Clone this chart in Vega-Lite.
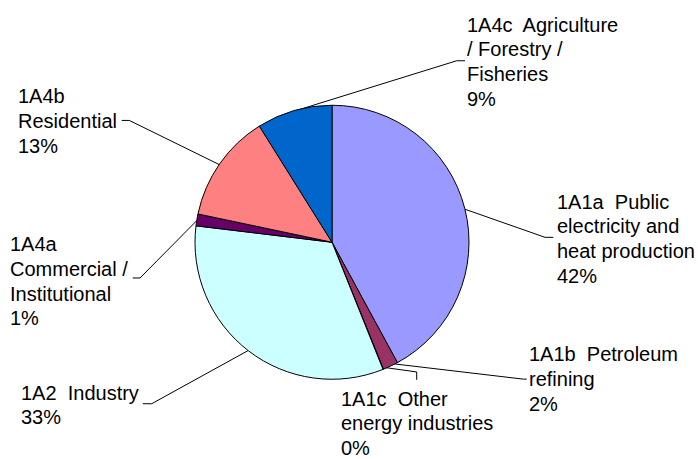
{
  "$schema": "https://vega.github.io/schema/vega-lite/v6.json",
  "width": 698,
  "height": 459,
  "autosize": {"type": "fit", "contains": "padding"},
  "padding": 0,
  "background": "white",
  "config": {"view": {"stroke": null}, "font": "Liberation Sans"},
  "datasets": {
    "slices": [
      {"source": "1A1a Public electricity and heat production", "share": 42.1, "idx": 1},
      {"source": "1A1b Petroleum refining", "share": 1.8, "idx": 2},
      {"source": "1A1c Other energy industries", "share": 0.05, "idx": 3},
      {"source": "1A2 Industry", "share": 33.0, "idx": 4},
      {"source": "1A4a Commercial / Institutional", "share": 1.4, "idx": 5},
      {"source": "1A4b Residential", "share": 12.8, "idx": 6},
      {"source": "1A4c Agriculture / Forestry / Fisheries", "share": 8.9, "idx": 7}
    ],
    "labels": [
      {"source": "1A1a", "lx": 225, "ly": 34, "text": ["1A1a\u00a0 Public", "electricity and", "heat production", "42%"]},
      {"source": "1A1b", "lx": 197, "ly": -121, "text": ["1A1b\u00a0 Petroleum", "refining", "2%"]},
      {"source": "1A1c", "lx": 9, "ly": -166, "text": ["1A1c\u00a0 Other", "energy industries", "0%"]},
      {"source": "1A2", "lx": -311, "ly": -160, "text": ["1A2\u00a0 Industry", "33%"]},
      {"source": "1A4a", "lx": -322, "ly": -9, "text": ["1A4a", "Commercial /", "Institutional", "1%"]},
      {"source": "1A4b", "lx": -314, "ly": 141, "text": ["1A4b", "Residential", "13%"]},
      {"source": "1A4c", "lx": 135, "ly": 214, "text": ["1A4c\u00a0 Agriculture", "/ Forestry /", "Fisheries", "9%"]}
    ],
    "leaders": [
      {"source": "1A1a", "step": 1, "px": 132.8, "py": 33.6},
      {"source": "1A1a", "step": 2, "px": 213, "py": 5},
      {"source": "1A1a", "step": 3, "px": 221.3, "py": 5},
      {"source": "1A1b", "step": 1, "px": 62, "py": -123.5},
      {"source": "1A1b", "step": 2, "px": 191.3, "py": -139},
      {"source": "1A1b", "step": 3, "px": 194.7, "py": -139},
      {"source": "1A1c", "step": 1, "px": 51.3, "py": -127},
      {"source": "1A1c", "step": 2, "px": 84.7, "py": -131.7},
      {"source": "1A1c", "step": 3, "px": 84.7, "py": -139.7},
      {"source": "1A2", "step": 1, "px": -83, "py": -109.5},
      {"source": "1A2", "step": 2, "px": -180.3, "py": -164},
      {"source": "1A2", "step": 3, "px": -189.3, "py": -164},
      {"source": "1A4a", "step": 1, "px": -135.2, "py": 22},
      {"source": "1A4a", "step": 2, "px": -192, "py": -36.3},
      {"source": "1A4a", "step": 3, "px": -199.3, "py": -36.3},
      {"source": "1A4b", "step": 1, "px": -112, "py": 78.5},
      {"source": "1A4b", "step": 2, "px": -202.7, "py": 123.7},
      {"source": "1A4b", "step": 3, "px": -210.3, "py": 123.7},
      {"source": "1A4c", "step": 1, "px": -35, "py": 134},
      {"source": "1A4c", "step": 2, "px": 124.7, "py": 184.3},
      {"source": "1A4c", "step": 3, "px": 133, "py": 184.3}
    ]
  },
  "layer": [
    {
      "data": {"name": "leaders"},
      "mark": {"type": "line", "color": "black", "strokeWidth": 1, "interpolate": "linear"},
      "encoding": {
        "x": {"field": "px", "type": "quantitative", "scale": {"domain": [-332, 366], "nice": false, "zero": false}, "axis": null},
        "y": {"field": "py", "type": "quantitative", "scale": {"domain": [-213, 246], "nice": false, "zero": false}, "axis": null},
        "detail": {"field": "source"},
        "order": {"field": "step", "type": "quantitative"}
      }
    },
    {
      "data": {"name": "slices"},
      "mark": {"type": "arc", "outerRadius": 137, "stroke": "black", "strokeWidth": 1},
      "encoding": {
        "x": {"datum": 0, "type": "quantitative"},
        "y": {"datum": 0, "type": "quantitative"},
        "theta": {"field": "share", "type": "quantitative", "stack": true},
        "order": {"field": "idx", "type": "quantitative"},
        "color": {
          "field": "source",
          "type": "nominal",
          "legend": null,
          "scale": {
            "domain": [
              "1A1a Public electricity and heat production",
              "1A1b Petroleum refining",
              "1A1c Other energy industries",
              "1A2 Industry",
              "1A4a Commercial / Institutional",
              "1A4b Residential",
              "1A4c Agriculture / Forestry / Fisheries"
            ],
            "range": ["#9999FF", "#993366", "#FFFFCC", "#CCFFFF", "#660066", "#FF8080", "#0066CC"]
          }
        }
      }
    },
    {
      "data": {"name": "labels"},
      "mark": {"type": "text", "align": "left", "baseline": "alphabetic", "fontSize": 20, "lineHeight": 24.7, "color": "black", "font": "Liberation Sans"},
      "encoding": {
        "x": {"field": "lx", "type": "quantitative"},
        "y": {"field": "ly", "type": "quantitative"},
        "text": {"field": "text"}
      }
    }
  ]
}
